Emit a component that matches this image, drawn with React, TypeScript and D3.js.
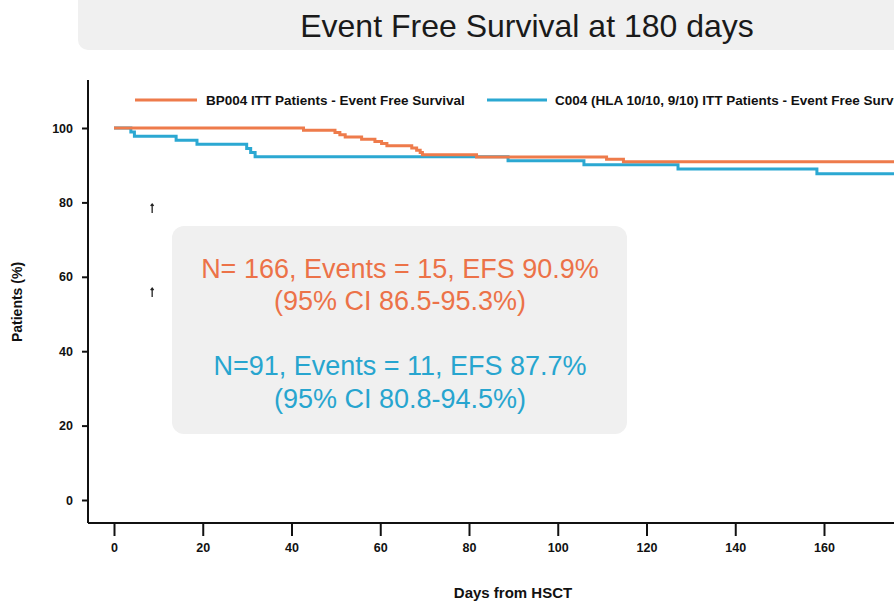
import React, { useEffect, useRef } from 'react';
import * as d3 from 'd3';

// Kaplan-Meier steps (day, % event free)
const bpDays = [0, 42.7, 49.8, 50.9, 52.1, 55.8, 58.8, 60.3, 61.5, 67.1, 68.2, 69.0, 69.5, 81.7, 111.0, 114.8, 180];
const bpValues = [100, 99.4, 98.8, 98.2, 97.6, 97.0, 96.4, 95.8, 95.2, 94.6, 94.0, 93.4, 92.8, 92.2, 91.6, 90.9, 90.9];

const cDays = [0, 3.8, 4.6, 14, 18.7, 29.9, 30.8, 31.8, 88.8, 105.9, 127.1, 158.4, 180];
const cValues = [100, 98.9, 97.8, 96.7, 95.6, 94.5, 93.4, 92.3, 91.2, 90.1, 89.0, 87.7, 87.7];

const xTicks = [0, 20, 40, 60, 80, 100, 120, 140, 160];
const yTicks = [0, 20, 40, 60, 80, 100];

const censorDays = [8.6, 8.6];
const censorValues = [78.5, 55.9];

const seriesNames = [
  'BP004 ITT Patients - Event Free Survival',
  'C004 (HLA 10/10, 9/10) ITT Patients - Event Free Survival',
];
const boxLines = [
  'N= 166, Events = 15, EFS 90.9%',
  '(95% CI 86.5-95.3%)',
  'N=91, Events = 11, EFS 87.7%',
  '(95% CI 80.8-94.5%)',
];

const ORANGE = '#ee7b4b';
const BLUE = '#2ba8d2';

const App = () => {
  const ref = useRef<SVGSVGElement | null>(null);

  useEffect(() => {
    const svg = d3.select(ref.current);
    svg.selectAll('*').remove();

    const font = '"Liberation Sans", Arial, sans-serif';
    const x = d3.scaleLinear().domain([0, 180]).range([114, 114 + 4.4375 * 180]);
    const y = d3.scaleLinear().domain([0, 100]).range([500, 128]);

    // title banner
    svg.append('rect')
      .attr('x', 78).attr('y', -12)
      .attr('width', 900).attr('height', 62)
      .attr('rx', 10)
      .attr('fill', '#f0f0f0');
    svg.append('text')
      .attr('x', 527).attr('y', 37)
      .attr('text-anchor', 'middle')
      .style('font-family', font)
      .style('font-size', '32px')
      .attr('fill', '#1a1a1a')
      .text('Event Free Survival at 180 days');

    // axes
    const yAxis = svg.append('g').attr('transform', 'translate(88,0)')
      .call(d3.axisLeft(y).tickValues(yTicks).tickSize(6).tickPadding(9).tickSizeOuter(0));
    yAxis.select('.domain').attr('d', 'M0,80V523');
    const xAxis = svg.append('g').attr('transform', 'translate(0,523)')
      .call(d3.axisBottom(x).tickValues(xTicks).tickSize(13).tickPadding(7).tickSizeOuter(0));
    xAxis.select('.domain').attr('d', 'M88,0H900');
    [yAxis, xAxis].forEach(g => {
      g.selectAll('path, line').attr('stroke', '#111').attr('stroke-width', 2);
      g.selectAll('text')
        .style('font-family', font)
        .style('font-size', '12.5px')
        .style('font-weight', 'bold')
        .attr('fill', '#111');
    });

    svg.append('text')
      .attr('x', 513).attr('y', 598)
      .attr('text-anchor', 'middle')
      .style('font-family', font).style('font-size', '15px').style('font-weight', 'bold')
      .attr('fill', '#111')
      .text('Days from HSCT');
    svg.append('text')
      .attr('transform', 'translate(22,302) rotate(-90)')
      .attr('text-anchor', 'middle')
      .style('font-family', font).style('font-size', '14px').style('font-weight', 'bold')
      .attr('fill', '#111')
      .text('Patients (%)');

    // survival curves
    const stepLine = d3.line<[number, number]>().curve(d3.curveStepAfter);
    const drawCurve = (days: number[], vals: number[], color: string) => {
      const pts = days.map((d, i) => [x(d), y(vals[i])] as [number, number]);
      svg.append('path')
        .attr('d', stepLine(pts))
        .attr('fill', 'none')
        .attr('stroke', color)
        .attr('stroke-width', 3);
    };
    drawCurve(cDays, cValues, BLUE);
    drawCurve(bpDays, bpValues, ORANGE);

    // censor marks
    censorDays.forEach((d, i) => {
      const cx = x(d), cy = y(censorValues[i]);
      svg.append('path')
        .attr('d', `M${cx},${cy - 4}V${cy + 5}M${cx - 1.5},${cy - 2}L${cx},${cy - 4}L${cx + 1.5},${cy - 2}`)
        .attr('stroke', '#222').attr('stroke-width', 1.3).attr('fill', 'none');
    });

    // legend
    const legend = [
      { x0: 135, x1: 197, tx: 206, color: ORANGE, name: seriesNames[0] },
      { x0: 487, x1: 547, tx: 555, color: BLUE, name: seriesNames[1] },
    ];
    legend.forEach(l => {
      svg.append('line')
        .attr('x1', l.x0).attr('x2', l.x1).attr('y1', 100).attr('y2', 100)
        .attr('stroke', l.color).attr('stroke-width', 3);
      svg.append('text')
        .attr('x', l.tx).attr('y', 105)
        .style('font-family', font).style('font-size', '13.5px').style('font-weight', 'bold')
        .attr('fill', '#111')
        .text(l.name);
    });

    // annotation box
    svg.append('rect')
      .attr('x', 172).attr('y', 226)
      .attr('width', 455).attr('height', 208)
      .attr('rx', 12)
      .attr('fill', '#f0f0f0');
    const lineY = [278, 310, 375, 408];
    boxLines.forEach((t, i) => {
      svg.append('text')
        .attr('x', 400).attr('y', lineY[i])
        .attr('text-anchor', 'middle')
        .style('font-family', font).style('font-size', '27px')
        .attr('fill', i < 2 ? '#ec7248' : '#27a5cf')
        .text(t);
    });
  }, []);

  return (
    <svg
      ref={ref}
      width={894}
      height={601}
      style={{ position: 'absolute', left: 0, top: 0, background: '#fff' }}
    />
  );
};

export default App;
